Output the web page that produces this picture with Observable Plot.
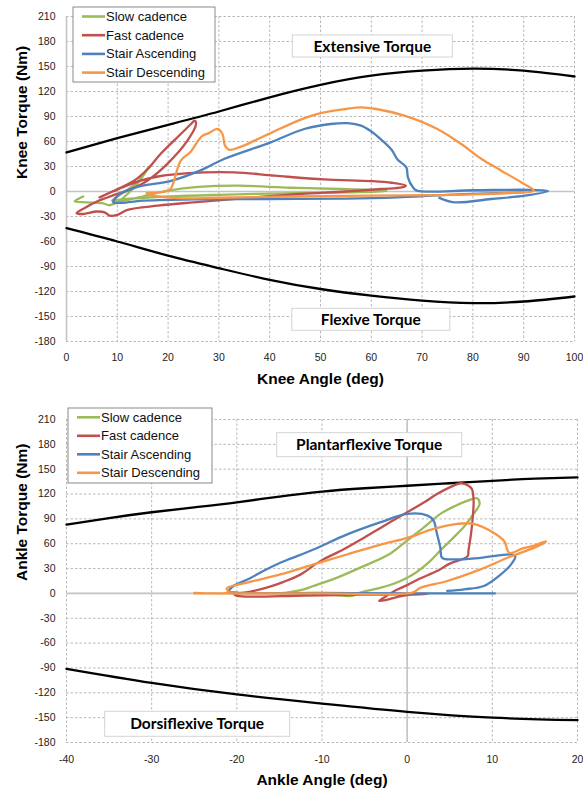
<!DOCTYPE html>
<html>
<head>
<meta charset="utf-8">
<script src="https://cdn.jsdelivr.net/npm/d3@7"></script>
<script src="https://cdn.jsdelivr.net/npm/@observablehq/plot@0.6"></script>
<style>
  html, body { margin: 0; padding: 0; background: #fff; }
  #root { width: 583px; height: 794px; position: relative; overflow: hidden; }
  #root svg { display: block; }
</style>
</head>
<body>
<div id="root"></div>
<script>
// ---------- data ----------
const seriesNames = ["Slow cadence", "Fast cadence", "Stair Ascending", "Stair Descending"];
const seriesColors = ["#9bbb59", "#c0504d", "#4f81bd", "#f79646"];

const kneeTicksX = [0, 10, 20, 30, 40, 50, 60, 70, 80, 90, 100];
const ankleTicksX = [-40, -30, -20, -10, 0, 10, 20];
const torqueTicks = [-180, -150, -120, -90, -60, -30, 0, 30, 60, 90, 120, 150, 180, 210];

// knee torque limits [angle, torque]
const kneeExtLimit = [[0,47],[10,64],[20,80],[30,96],[40,113],[50,128],[60,139],[70,145],[80,147.5],[90,145],[100,138]];
const kneeFlexLimit = [[0,-44],[10,-60],[20,-77],[30,-92],[40,-106],[50,-117],[60,-125],[70,-131],[80,-134],[90,-132],[100,-126]];

// knee curves [angle, torque]
const kneeSlow = [[3.3,-6],[2,-10],[1.6,-12],[4,-13],[7,-14],[8.5,-16.5],[10,-13],[12,-3],[14,10],[16.3,30],[15.5,24],[14.2,13],[12,2],[10,-6],[9,-11],[11,-11],[15,-6],[20,1],[26,5.5],[34,7],[44,4.5],[54,3],[62,1.5],[63,0.5],[55,-1],[45,-2],[30,-4],[20,-6],[12,-9],[9,-11]];
const kneeFast = [[6.5,-7],[9,0],[13.3,13],[16,27],[18.5,45],[22.5,69],[24.5,81],[25.2,85],[25.5,81],[23.8,61],[19.9,33.5],[15.9,13],[12,1],[9,-5],[6,-12],[3.5,-20],[2,-26],[3,-27],[6,-24],[7.5,-25],[8.5,-29],[10,-28],[12,-22],[18,-17],[25,-13],[35,-8],[46,-3],[55,0],[62,3],[66,5],[66.8,7],[64,10.5],[60,12.5],[50.7,14.5],[41,19],[33,23],[24,22],[18,18],[14.6,13],[11,5],[8,-3],[6.5,-7]];
const kneeAscend = [[73.4,-7.6],[76.4,-13],[83.6,-9],[90.2,-5],[94.8,0.5],[91,2],[80,1.5],[69,1],[68.2,5],[67.2,17],[66.9,29],[65.2,38],[64,50],[62,62],[60,72],[58,79],[55.4,82],[52,81],[46.8,75],[40.2,59],[31,39],[26.5,25.6],[20.6,12.8],[14,5.6],[10.5,-3],[9.2,-13],[11,-13.5],[15,-11],[25,-9.5],[40,-9],[55,-8.5],[65,-7],[75,-4],[85,-2],[90,-1]];
const kneeDescend = [[15.8,-2],[20.3,2],[21,10],[22.5,37],[24.5,48],[25.8,60],[26.8,67],[28,70],[29.7,75],[30.7,69],[31.2,55],[32,50],[34,53],[37,61],[40.5,71],[46,86],[50,94],[55,99],[58,101],[61,99],[66.5,91],[73,75],[77.7,57],[81.7,39],[85.6,25],[89.5,11],[92,1],[88,-1.5],[80,-3.5],[70,-4.5],[60,-5],[45,-6],[30,-7.5],[22,-8],[16.5,-4],[15.8,-2]];

// ankle torque limits [angle, torque]
const anklePlantarLimit = [[-40,83],[-35,91],[-30,98],[-25,104],[-20,110],[-15,117],[-10,123],[-5,127],[0,130],[5,133],[10,136],[15,138.5],[20,140]];
const ankleDorsiLimit = [[-40,-91],[-30,-108],[-20,-122],[-10,-133],[0,-143],[10,-150],[20,-153]];

// ankle curves [angle, torque]
const ankleSlow = [[-15,0],[-12.5,4],[-11,9],[-8,20],[-5.1,33],[-2,48],[0,64],[2,80],[3.9,96],[5.5,105],[7.1,112],[8.2,115],[8.5,108],[7.8,96],[6.8,82],[5.5,68],[4,53],[2.7,39],[1,25],[0,19],[-1.5,12],[-3.1,7],[-5.5,1],[-6.5,-3],[-9,-1.5],[-13,-0.5],[-15,0]];
const ankleFast = [[-20.3,-1],[-18,3],[-16.5,7],[-14.5,14],[-12.5,23],[-10.2,39],[-7.5,53],[-5.1,67],[-2.5,83],[0,98],[2,110],[3.5,120],[5,128],[6.3,133],[7.2,130],[7.6,126],[7.8,112],[7.7,92],[7.5,72],[7.2,52],[7.1,45],[5,36],[3.5,27],[1.5,18],[0,10],[-1.5,3],[-2.7,-5],[-3.3,-9],[-2.5,-8],[-1,-4],[0.5,-1.5],[2.4,-0.5],[-5,-1.5],[-12,-2.5],[-20,-3],[-20.3,-1]];
const ankleAscend = [[10.3,0],[5,0],[0,0],[-10,0.5],[-20,1],[-21,2.5],[-20.9,4],[-20.4,9],[-18.5,18],[-16.9,27],[-14.9,37],[-13.7,42],[-11,53],[-7.1,71],[-3.1,86],[0,96],[2.4,94],[3.1,88],[3.5,72],[3.9,55],[4.1,43],[5.5,41],[8.6,43],[12.2,47],[12.7,45],[12.2,35],[11,23],[9,9],[6.7,5],[4.7,3]];
const ankleDescend = [[-25,0.5],[-21,2],[-21.2,6],[-18.8,13],[-14.9,23],[-11,35],[-7.1,47],[-3.1,59],[0,67],[3.1,78],[5.9,84],[7.8,84],[10.2,73],[11.4,63],[12,49],[13.5,54],[15,58],[16.3,63],[16.1,61],[14.9,55],[12,44],[8.6,29],[4.7,15],[1.6,7],[0.6,1],[-10,0],[-25,0]];

const kneeNotes = ["Extensive Torque", "Flexive Torque"];
const ankleNotes = ["Plantarflexive Torque", "Dorsiflexive Torque"];

// ---------- drawing ----------
const FONT = "'Liberation Sans', Arial, sans-serif";
const NOTE_FONT = "Lato, 'Open Sans', sans-serif";

function drawChart(cfg) {
  const xy = {x: d => d[0], y: d => d[1]};
  const curves = cfg.series.map((pts, i) =>
    Plot.line(pts, {...xy, stroke: seriesColors[i], strokeWidth: 2.3, curve: "catmull-rom", strokeLinejoin: "round", strokeLinecap: "round"})
  );
  const svg = Plot.plot({
    width: 583,
    height: 397,
    marginTop: cfg.mt,
    marginBottom: cfg.mb,
    marginLeft: 66,
    marginRight: cfg.mr,
    x: {domain: cfg.xDomain},
    y: {domain: [-180, 210]},
    style: {fontFamily: FONT, fontSize: "10.5px", color: "#222", background: "#fff", overflow: "visible"},
    marks: [
      Plot.gridX(cfg.xTicks, {stroke: "#b8b8b8", strokeOpacity: 1, strokeWidth: 1, strokeDasharray: "2.5,2"}),
      Plot.gridY(torqueTicks, {stroke: "#b8b8b8", strokeOpacity: 1, strokeWidth: 1, strokeDasharray: "2.5,2"}),
      Plot.ruleY([0], {stroke: "#c4c4c4", strokeWidth: 1.6}),
      Plot.ruleX([0], {stroke: "#c4c4c4", strokeWidth: 1.6}),
      Plot.line(cfg.upper, {...xy, stroke: "#000", strokeWidth: 2.3, curve: "natural"}),
      Plot.line(cfg.lower, {...xy, stroke: "#000", strokeWidth: 2.3, curve: "natural"}),
      ...curves,
      Plot.axisX(cfg.xTicks, {tickSize: 0, tickPadding: cfg.xPad, tickFormat: d => String(d), label: null}),
      Plot.axisY(torqueTicks, {tickSize: 0, tickPadding: 11, tickFormat: d => String(d), label: null}),
      Plot.text([cfg.xTitle], {text: d => d, frameAnchor: "bottom", dy: 42, fontSize: 15.5, fontWeight: "bold", fill: "#000"}),
      Plot.text([cfg.yTitle], {text: d => d, frameAnchor: "left", dx: -44, rotate: -90, fontSize: 15.5, fontWeight: "bold", fill: "#000"})
    ]
  });
  document.getElementById("root").appendChild(svg);

  const sx = svg.scale("x"), sy = svg.scale("y");
  const g = d3.select(svg).append("g");
  cfg.notes.forEach((label, i) => {
    const p = cfg.notePos[i];
    const cx = sx.apply(p.x), cy = sy.apply(p.y);
    g.append("rect")
      .attr("x", cx - p.w / 2).attr("y", cy - p.h / 2)
      .attr("width", p.w).attr("height", p.h)
      .attr("fill", "#fff").attr("stroke", "#d4d4d4").attr("stroke-width", 1);
    g.append("text")
      .attr("x", cx).attr("y", cy)
      .attr("text-anchor", "middle").attr("dy", "0.36em")
      .attr("font-family", NOTE_FONT).attr("font-weight", "bold").attr("font-size", 15.5)
      .attr("fill", "#000")
      .text(label);
  });

  // legend
  const L = cfg.legend;
  const lg = d3.select(svg).append("g").attr("text-anchor", "start");
  lg.append("rect").attr("x", L.x).attr("y", L.y).attr("width", L.w).attr("height", L.h)
    .attr("fill", "#fff").attr("stroke", "#8a8a8a").attr("stroke-width", 1);
  seriesNames.forEach((name, i) => {
    const y = L.row0 + i * L.step;
    lg.append("line").attr("x1", L.lx1).attr("x2", L.lx2).attr("y1", y).attr("y2", y)
      .attr("stroke", seriesColors[i]).attr("stroke-width", 2.6);
    lg.append("text").attr("x", L.tx).attr("y", y).attr("dy", "0.35em")
      .attr("text-anchor", "start")
      .attr("font-family", FONT).attr("font-size", 13).attr("fill", "#111")
      .text(name);
  });
}

drawChart({
  series: [kneeSlow, kneeFast, kneeAscend, kneeDescend],
  upper: kneeExtLimit, lower: kneeFlexLimit,
  xDomain: [0, 100], xTicks: kneeTicksX,
  mt: 16, mb: 56, mr: 9, xPad: 12,
  xTitle: "Knee Angle (deg)", yTitle: "Knee Torque (Nm)",
  notes: kneeNotes,
  notePos: [{x: 60.3, y: 174, w: 160, h: 22}, {x: 60, y: -154, w: 158, h: 22}],
  legend: {x: 73, y: 7, w: 142, h: 75, row0: 16.5, step: 18.7, lx1: 82, lx2: 105, tx: 106}
});

drawChart({
  series: [ankleSlow, ankleFast, ankleAscend, ankleDescend],
  upper: anklePlantarLimit, lower: ankleDorsiLimit,
  xDomain: [-40, 20], xTicks: ankleTicksX,
  mt: 22, mb: 52, mr: 6, xPad: 13,
  xTitle: "Ankle Angle (deg)", yTitle: "Ankle Torque (Nm)",
  notes: ankleNotes,
  notePos: [{x: -4.4, y: 179, w: 185, h: 24}, {x: -24.6, y: -158, w: 185, h: 25}],
  legend: {x: 68, y: 11, w: 144, h: 75, row0: 20.3, step: 18.5, lx1: 77, lx2: 100, tx: 101}
});
</script>
</body>
</html>
